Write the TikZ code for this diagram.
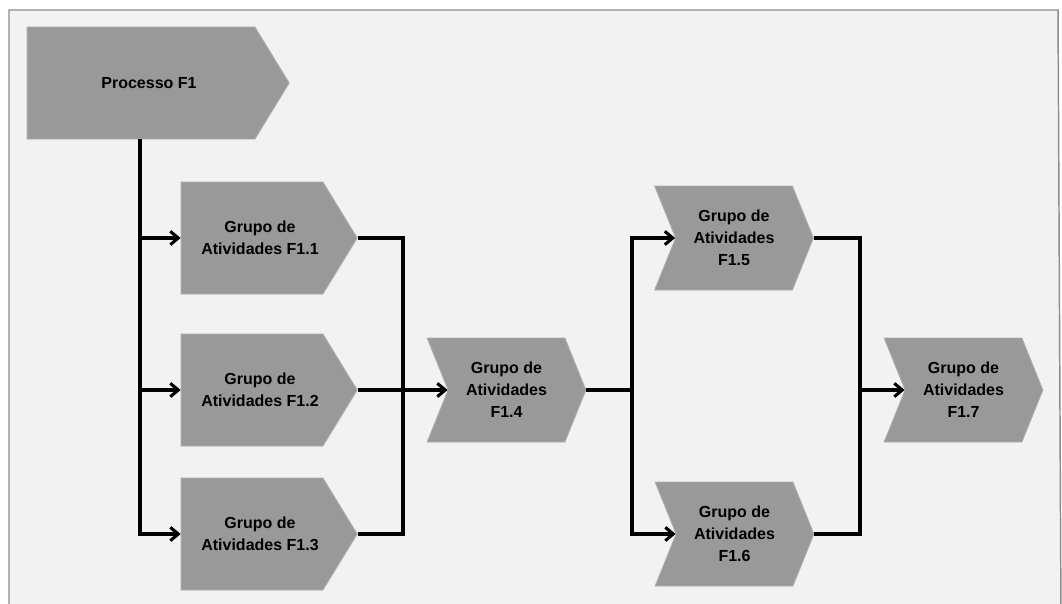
\documentclass[tikz,border=0pt]{standalone}
\usepackage{fontspec}
\setmainfont{Liberation Sans}
\usetikzlibrary{arrows.meta, shapes.symbols}

\begin{document}
\begin{tikzpicture}
            [
                x=0.75pt, y=-0.75pt,
                every node/.style={font=\bfseries\fontsize{12}{16.5}\selectfont, align=center},
                caixa/.style=
                {
                    signal, fill=boxGray, draw=edgeGray, line width=0.7pt, inner sep=0pt
                },
                processo/.style=
                {
                    caixa, signal to=east, signal pointer angle=117,
                    minimum width=196.5pt, minimum height=84pt
                },
                grupo/.style=
                {
                    caixa, signal to=east, signal pointer angle=117,
                    minimum width=132pt, minimum height=84pt
                },
                etapa/.style=
                {
                    caixa, signal from=west, signal to=east, signal pointer angle=136,
                    minimum width=119pt, minimum height=78pt
                },
                link/.style={line width=2.3pt, draw=black},
                seta/.style={link, -{Straight Barb[length=6pt, width=10pt]}}
            ]
            \definecolor{boxGray}{HTML}{999999}
            \definecolor{edgeGray}{HTML}{A9ACB0}
            \definecolor{bgGray}{HTML}{F2F2F2}
            \definecolor{frameGray}{HTML}{8C8C8C}
            \useasboundingbox (0,0) rectangle (1062,603);
            % moldura
            \draw[draw=frameGray, fill=bgGray, line width=1.1pt]
                (9,10) -- (1058,10) -- (1061,620) -- (9,620) -- cycle;

            \node [processo] (proc) at (141,83) {\hspace*{12pt}Processo F1};
            \node [grupo] (g1) at (252,238) {\hspace*{12pt}Grupo de\\\hspace*{12pt}Atividades F1.1};
            \node [grupo] (g2) at (252,390) {\hspace*{12pt}Grupo de\\\hspace*{12pt}Atividades F1.2};
            \node [grupo] (g3) at (252,534) {\hspace*{12pt}Grupo de\\\hspace*{12pt}Atividades F1.3};
            \node [etapa] (g4) at (506.5,390) {Grupo de\\Atividades\\F1.4};
            \node [etapa] (g5) at (734,238) {Grupo de\\Atividades\\F1.5};
            \node [etapa] (g6) at (734.5,534) {Grupo de\\Atividades\\F1.6};
            \node [etapa] (g7) at (963.5,390) {Grupo de\\Atividades\\F1.7};

            \coordinate (tronco) at (140,83);
            \coordinate (juncao1) at (403,390);
            \coordinate (juncao2) at (632,390);
            \coordinate (juncao3) at (860,390);

            \draw[seta] (proc.south -| tronco) |- (g3.west);
            \draw[seta] (tronco |- g1.west) -- (g1.west);
            \draw[seta] (tronco |- g2.west) -- (g2.west);

            \draw[link] (g1.east) -| (juncao1) |- (g3.east);
            \draw[seta] (g2.east) -- (g4.west);

            \draw[link] (g4.east) -- (juncao2);
            \draw[seta] (juncao2) |- (g5.west);
            \draw[seta] (juncao2) |- (g6.west);

            \draw[link] (g5.east) -| (juncao3) |- (g6.east);
            \draw[seta] (juncao3) -- (g7.west);
        \end{tikzpicture}
\end{document}
